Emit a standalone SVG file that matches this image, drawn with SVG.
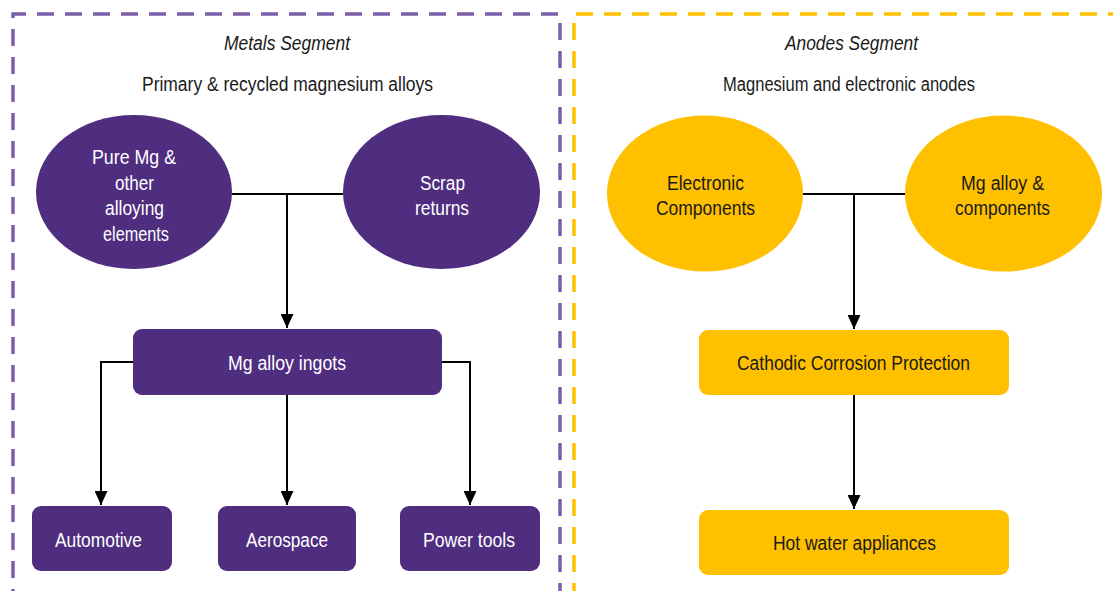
<svg xmlns="http://www.w3.org/2000/svg" width="1113" height="591" viewBox="0 0 1113 591">
<defs>
<style>
text{font-family:"Liberation Sans",Arial,sans-serif;font-size:19.5px;text-anchor:middle}
.ttl{font-style:italic;fill:#1a1a1a}
.sub{fill:#1a1a1a}
.pf{fill:#4F2D7F}
.yf{fill:#FFC000}
.pt{fill:#fff}
.yt{fill:#1a1a1a}
.conn{fill:none;stroke:#000;stroke-width:2}
</style>
<marker id="ah" markerWidth="14" markerHeight="13" refX="14" refY="6.5" orient="auto" markerUnits="userSpaceOnUse">
<path d="M0,0 L14,6.5 L0,13 Z" fill="#000"/>
</marker>
</defs>
<rect width="1113" height="591" fill="#fff"/>
<g id="frames">
<path d="M560,600 L560,14 L13,14 L13,600" fill="none" stroke="#7B5FA8" stroke-width="3.5" stroke-dasharray="17 11"/>
<path d="M574,600 L574,14 L1120,14" fill="none" stroke="#FFC000" stroke-width="3.5" stroke-dasharray="17 11"/>
</g>
<g id="headers">
<text class="ttl" x="287" y="50" textLength="126" lengthAdjust="spacingAndGlyphs">Metals Segment</text>
<text class="sub" x="287.5" y="91" textLength="291" lengthAdjust="spacingAndGlyphs">Primary &amp; recycled magnesium alloys</text>
<text class="ttl" x="851.5" y="50" textLength="133" lengthAdjust="spacingAndGlyphs">Anodes Segment</text>
<text class="sub" x="849" y="91" textLength="252" lengthAdjust="spacingAndGlyphs">Magnesium and electronic anodes</text>
</g>
<g id="connectors">
<path class="conn" d="M232,194 L343,194"/>
<path class="conn" d="M287,194 L287,328" marker-end="url(#ah)"/>
<path class="conn" d="M133,362 L101,362 L101,505" marker-end="url(#ah)"/>
<path class="conn" d="M287,395 L287,505" marker-end="url(#ah)"/>
<path class="conn" d="M442,362 L470,362 L470,505" marker-end="url(#ah)"/>
<path class="conn" d="M803,194 L905,194"/>
<path class="conn" d="M854,194 L854,329" marker-end="url(#ah)"/>
<path class="conn" d="M854,395 L854,509" marker-end="url(#ah)"/>
</g>
<g id="pure-mg">
<ellipse class="pf" cx="134" cy="192" rx="98" ry="77"/>
<text class="pt" x="134" y="164" textLength="84" lengthAdjust="spacingAndGlyphs">Pure Mg &amp;</text>
<text class="pt" x="134.5" y="190" textLength="39" lengthAdjust="spacingAndGlyphs">other</text>
<text class="pt" x="134.5" y="215" textLength="59" lengthAdjust="spacingAndGlyphs">alloying</text>
<text class="pt" x="136" y="241" textLength="66" lengthAdjust="spacingAndGlyphs">elements</text>
</g>
<g id="scrap">
<ellipse class="pf" cx="441.5" cy="192" rx="98.5" ry="77"/>
<text class="pt" x="442.5" y="190" textLength="45" lengthAdjust="spacingAndGlyphs">Scrap</text>
<text class="pt" x="442" y="215" textLength="54" lengthAdjust="spacingAndGlyphs">returns</text>
</g>
<g id="ingots">
<rect class="pf" x="133" y="329" width="309" height="66" rx="9"/>
<text class="pt" x="287" y="370" textLength="118" lengthAdjust="spacingAndGlyphs">Mg alloy ingots</text>
</g>
<g id="automotive">
<rect class="pf" x="32" y="506" width="140" height="65" rx="9"/>
<text class="pt" x="98.5" y="547" textLength="87" lengthAdjust="spacingAndGlyphs">Automotive</text>
</g>
<g id="aerospace">
<rect class="pf" x="218" y="506" width="138" height="65" rx="9"/>
<text class="pt" x="287" y="547" textLength="82" lengthAdjust="spacingAndGlyphs">Aerospace</text>
</g>
<g id="power-tools">
<rect class="pf" x="400" y="506" width="140" height="65" rx="9"/>
<text class="pt" x="469" y="547" textLength="92" lengthAdjust="spacingAndGlyphs">Power tools</text>
</g>
<g id="electronic">
<ellipse class="yf" cx="705" cy="193.5" rx="98" ry="78"/>
<text class="yt" x="705.5" y="190" textLength="77" lengthAdjust="spacingAndGlyphs">Electronic</text>
<text class="yt" x="705.5" y="215" textLength="99" lengthAdjust="spacingAndGlyphs">Components</text>
</g>
<g id="mg-alloy">
<ellipse class="yf" cx="1003.5" cy="193.5" rx="98.5" ry="78"/>
<text class="yt" x="1002.5" y="190" textLength="83" lengthAdjust="spacingAndGlyphs">Mg alloy &amp;</text>
<text class="yt" x="1002.5" y="215" textLength="95" lengthAdjust="spacingAndGlyphs">components</text>
</g>
<g id="cathodic">
<rect class="yf" x="699" y="330" width="310" height="65" rx="9"/>
<text class="yt" x="853.5" y="370" textLength="233" lengthAdjust="spacingAndGlyphs">Cathodic Corrosion Protection</text>
</g>
<g id="hot-water">
<rect class="yf" x="699" y="510" width="310" height="65" rx="9"/>
<text class="yt" x="854.5" y="550" textLength="163" lengthAdjust="spacingAndGlyphs">Hot water appliances</text>
</g>
</svg>
